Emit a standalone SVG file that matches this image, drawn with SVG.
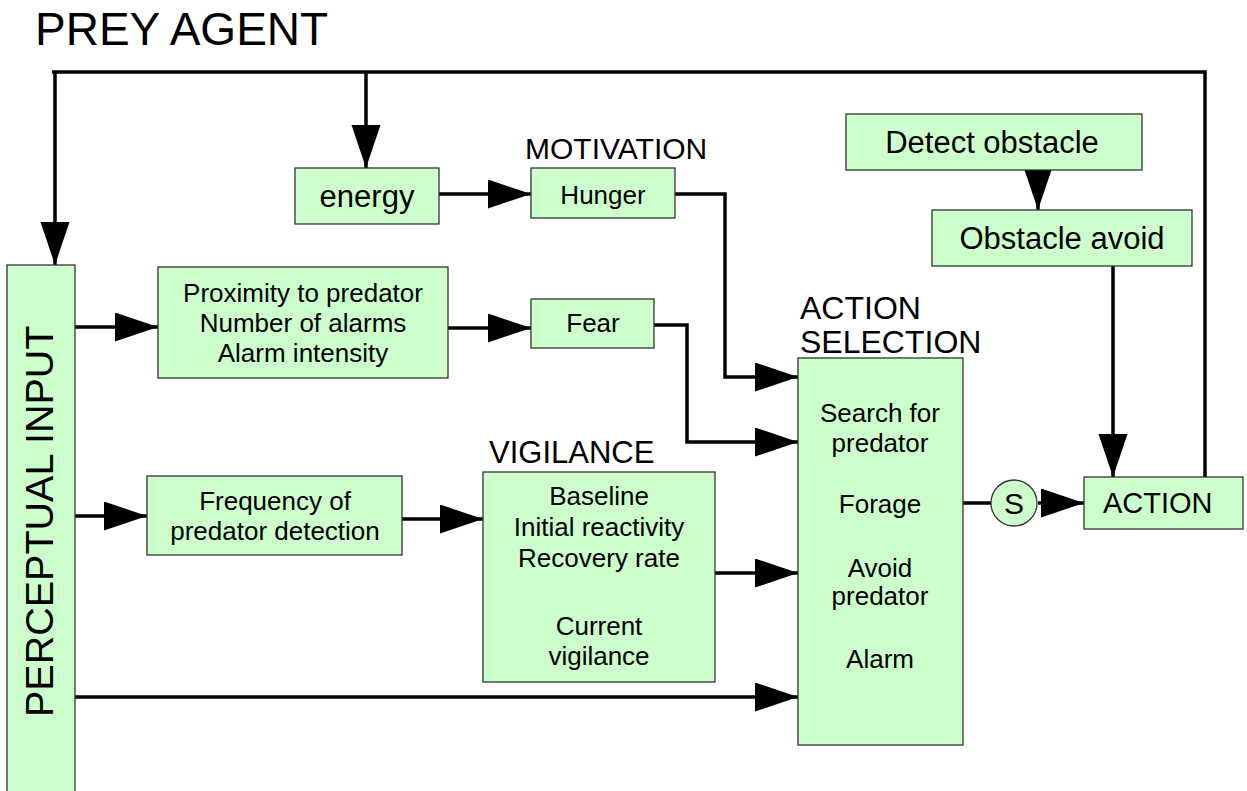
<svg xmlns="http://www.w3.org/2000/svg" width="1247" height="791" viewBox="0 0 1247 791">
<defs>
<marker id="ah" markerUnits="userSpaceOnUse" markerWidth="44" markerHeight="30" refX="43" refY="14.5" orient="auto" viewBox="0 0 44 30">
<path d="M0,0 L43,14.5 L0,29 z" fill="#000"/>
</marker>
</defs>
<style>
.box{fill:#ccffcc;stroke:#333;stroke-width:1.3}
.t{font-family:"Liberation Sans",Arial,sans-serif;fill:#000}
.c{text-anchor:middle}
.s26{font-size:26px}
.h{font-size:31px}
.ln{fill:none;stroke:#000;stroke-width:3.5}
.ar{marker-end:url(#ah)}
</style>
<rect width="1247" height="791" fill="#fff"/>
<text class="t" x="35" y="45" font-size="46">PREY AGENT</text>
<g id="connectors">
<path class="ln" d="M1205,477 V72 H52"/>
<path class="ln ar" d="M55,72 V265"/>
<path class="ln ar" d="M366,72 V168"/>
<path class="ln ar" d="M439,194 H531"/>
<path class="ln ar" d="M675,194 H725 V377 H798"/>
<path class="ln ar" d="M1038,168 V210"/>
<path class="ln ar" d="M1113,266 V477"/>
<path class="ln ar" d="M75,327 H158"/>
<path class="ln ar" d="M448,328 H531"/>
<path class="ln ar" d="M654,325 H687 V442 H798"/>
<path class="ln ar" d="M75,516 H147"/>
<path class="ln ar" d="M402,519 H483"/>
<path class="ln ar" d="M715,573 H798"/>
<path class="ln ar" d="M75,697 H798"/>
<path class="ln" d="M963,503 H991"/>
<path class="ln ar" d="M1038,503 H1084"/>
</g>
<g id="perceptual">
<rect class="box" x="7" y="265" width="68" height="535"/>
<text class="t" font-size="39.5" transform="translate(53,717) rotate(-90)">PERCEPTUAL INPUT</text>
</g>
<g id="energy">
<rect class="box" x="295" y="168" width="144" height="56"/>
<text class="t c" x="367" y="207" font-size="31">energy</text>
</g>
<g id="motivation">
<text class="t" x="525" y="159" font-size="30">MOTIVATION</text>
</g>
<g id="hunger">
<rect class="box" x="531" y="168" width="144" height="50"/>
<text class="t c s26" x="603" y="204">Hunger</text>
</g>
<g id="detect">
<rect class="box" x="846" y="114" width="296" height="56"/>
<text class="t c" x="992" y="153" font-size="31">Detect obstacle</text>
</g>
<g id="obstacle">
<rect class="box" x="932" y="210" width="260" height="56"/>
<text class="t c" x="1062" y="249" font-size="31">Obstacle avoid</text>
</g>
<g id="proximity">
<rect class="box" x="158" y="267" width="290" height="111"/>
<text class="t c s26" x="303" y="302">Proximity to predator</text>
<text class="t c s26" x="303" y="332">Number of alarms</text>
<text class="t c s26" x="303" y="362">Alarm intensity</text>
</g>
<g id="fear">
<rect class="box" x="531" y="299" width="123" height="49"/>
<text class="t c s26" x="593" y="332">Fear</text>
</g>
<g id="frequency">
<rect class="box" x="147" y="476" width="255" height="79"/>
<text class="t c s26" x="275" y="510">Frequency of</text>
<text class="t c s26" x="275" y="540">predator detection</text>
</g>
<g id="vigilance">
<text class="t h" x="489" y="463">VIGILANCE</text>
<rect class="box" x="483" y="472" width="232" height="210"/>
<text class="t c s26" x="599" y="505">Baseline</text>
<text class="t c s26" x="599" y="536">Initial reactivity</text>
<text class="t c s26" x="599" y="567">Recovery rate</text>
<text class="t c s26" x="599" y="635">Current</text>
<text class="t c s26" x="599" y="665">vigilance</text>
</g>
<g id="selection">
<text class="t" x="800" y="319" font-size="32">ACTION</text>
<text class="t" x="800" y="353" font-size="32">SELECTION</text>
<rect class="box" x="798" y="358" width="165" height="387"/>
<text class="t c s26" x="880" y="422">Search for</text>
<text class="t c s26" x="880" y="452">predator</text>
<text class="t c s26" x="880" y="513">Forage</text>
<text class="t c s26" x="880" y="577">Avoid</text>
<text class="t c s26" x="880" y="605">predator</text>
<text class="t c s26" x="880" y="668">Alarm</text>
</g>
<g id="s-node">
<circle class="box" cx="1014" cy="503" r="23"/>
<text class="t c" x="1014" y="514" font-size="30">S</text>
</g>
<g id="action">
<rect class="box" x="1084" y="477" width="159" height="52"/>
<text class="t" x="1103" y="513" font-size="29">ACTION</text>
</g>
</svg>
